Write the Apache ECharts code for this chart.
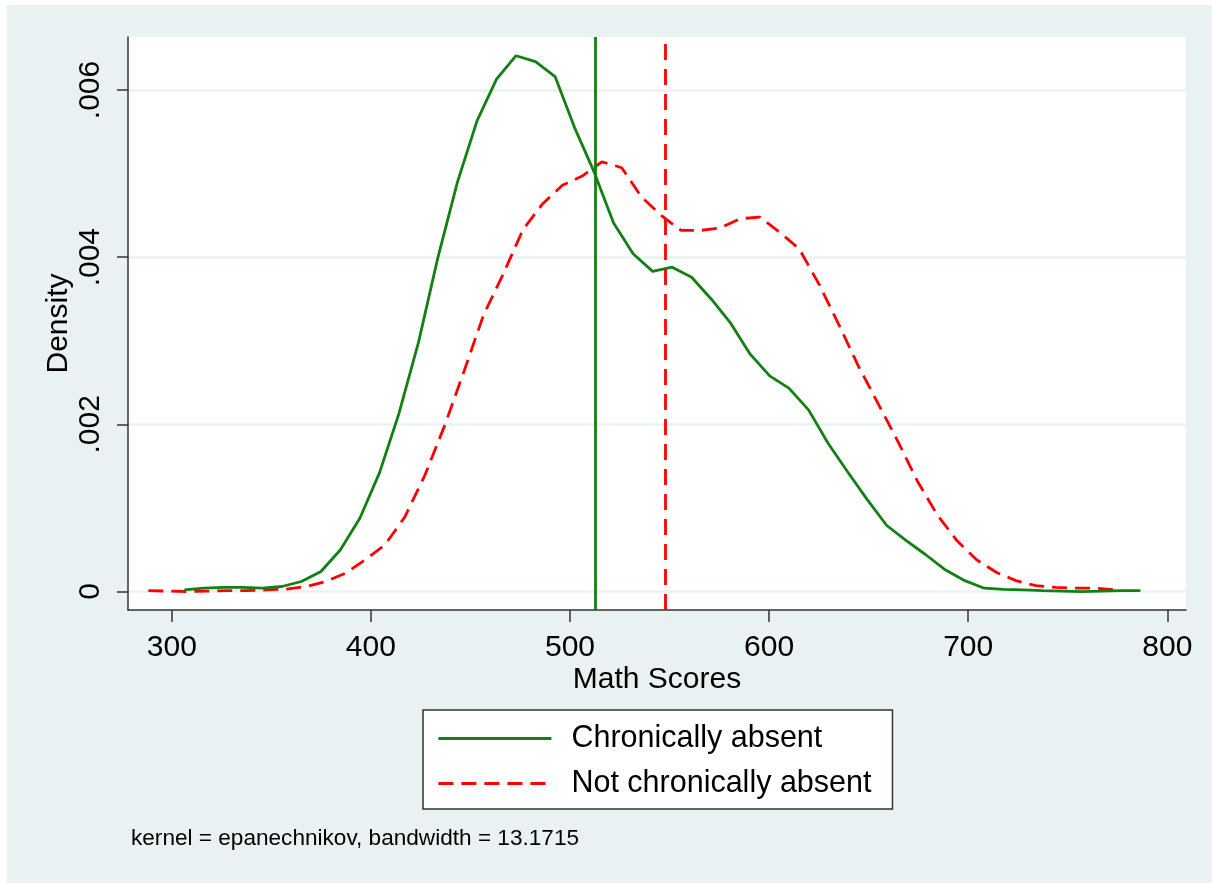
<!DOCTYPE html>
<html>
<head>
<meta charset="utf-8">
<script src="https://cdn.jsdelivr.net/npm/echarts@6/dist/echarts.min.js"></script>
<style>
  html, body { margin: 0; padding: 0; background: #ffffff; }
  #chart { position: absolute; left: 7px; top: 5px; width: 1205px; height: 878px; }
</style>
</head>
<body>
<div id="chart"></div>
<script>
// ---- Data ----
const chronicX = [306.3, 316.1, 325.9, 335.7, 345.5, 355.3, 365.1, 374.9, 384.7, 394.5,
  404.3, 414.1, 423.9, 433.7, 443.5, 453.3, 463.1, 472.9, 482.7, 492.5,
  502.3, 512.1, 521.9, 531.7, 541.5, 551.3, 561.1, 570.9, 580.7, 590.5,
  600.3, 610.1, 619.9, 629.7, 639.5, 649.3, 659.1, 668.9, 678.7, 688.5,
  698.3, 708.1, 717.9, 727.7, 737.5, 747.3, 757.1, 766.9, 776.7, 786.5];
const chronicY = [0.00002, 0.00004, 0.00005, 0.00005, 0.00004, 0.00006, 0.00012, 0.00024, 0.00050, 0.00088,
  0.00142, 0.00213, 0.00298, 0.00400, 0.00490, 0.00563, 0.00613, 0.00641, 0.00634, 0.00616,
  0.00555, 0.00502, 0.00441, 0.00404, 0.00383, 0.00388, 0.00376, 0.00350, 0.00321, 0.00284,
  0.00258, 0.00243, 0.00217, 0.00177, 0.00143, 0.00110, 0.00079, 0.00061, 0.00044, 0.00026,
  0.00013, 0.00004, 0.000025, 0.00002, 0.00001, 0.000005, 0.0, 0.000005, 0.00001, 0.00001];

const notChronicX = [288.2, 298.1, 308.0, 317.9, 327.8, 337.7, 347.7, 357.6, 367.5, 377.4,
  387.3, 397.2, 407.1, 417.0, 426.9, 436.8, 446.7, 456.6, 466.5, 476.4,
  486.3, 496.2, 506.1, 516.0, 526.0, 535.9, 545.8, 555.7, 565.6, 575.5,
  585.4, 595.3, 605.2, 615.1, 625.0, 634.9, 644.8, 654.7, 664.6, 674.5,
  684.4, 694.3, 704.2, 714.1, 724.0, 734.0, 743.9, 753.8, 763.7, 773.6];
const notChronicY = [0.00001, 0.000005, 0.0, 0.000005, 0.00001, 0.00001, 0.00002, 0.00003, 0.00006, 0.00012,
  0.00022, 0.00038, 0.00056, 0.00089, 0.00138, 0.00197, 0.00263, 0.00331, 0.00380, 0.00433,
  0.00464, 0.00486, 0.00497, 0.00514, 0.00507, 0.00472, 0.00450, 0.00432, 0.00432, 0.00435,
  0.00446, 0.00448, 0.00430, 0.00410, 0.00368, 0.00320, 0.00270, 0.00225, 0.00180, 0.00132,
  0.00092, 0.00061, 0.00038, 0.00023, 0.00013, 0.00007, 0.00005, 0.00004, 0.00004, 0.00002];

const meanChronic = 512.6;
const meanNotChronic = 547.8;

const xTicks = [300, 400, 500, 600, 700, 800];
const yTicks = [0, 0.002, 0.004, 0.006];

const seriesNames = ['Chronically absent', 'Not chronically absent'];
const noteText = 'kernel = epanechnikov, bandwidth = 13.1715';
const xTitle = 'Math Scores';
const yTitle = 'Density';

// ---- Styling ----
const FONT = '"Liberation Sans", Arial, Helvetica, sans-serif';
const GREEN = '#128012';
const RED = '#ff0000';
const BG = '#eaf1f3';
const AXIS = '#333333';
const LW = 2.8;

const chronicData = chronicX.map((x, i) => [x, chronicY[i]]);
const notChronicData = notChronicX.map((x, i) => [x, notChronicY[i]]);

const chart = echarts.init(document.getElementById('chart'), null, { renderer: 'canvas' });

const option = {
  animation: false,
  backgroundColor: BG,
  textStyle: { fontFamily: FONT },
  grid: {
    left: 121, top: 32, right: 26, bottom: 273,
    show: true, backgroundColor: '#ffffff', borderWidth: 0
  },
  xAxis: {
    type: 'value',
    min: 278, max: 809.4,
    name: xTitle,
    nameLocation: 'middle',
    nameGap: 55,
    nameMoveOverlap: false,
    nameTextStyle: { fontSize: 30, color: '#000', fontFamily: FONT },
    axisLine: { show: true, onZero: false, lineStyle: { color: AXIS, width: 1.5 } },
    axisTick: { show: true, length: 12, customValues: xTicks, lineStyle: { color: AXIS, width: 1.5 } },
    axisLabel: { customValues: xTicks, fontSize: 30, color: '#000', margin: 23, fontFamily: FONT },
    splitLine: { show: false }
  },
  yAxis: {
    type: 'value',
    min: -0.000221, max: 0.006634,
    name: yTitle,
    nameLocation: 'middle',
    nameGap: 54,
    nameMoveOverlap: false,
    nameTextStyle: { fontSize: 30, color: '#000', fontFamily: FONT },
    axisLine: { show: true, onZero: false, lineStyle: { color: AXIS, width: 1.5 } },
    axisTick: { show: true, length: 11, customValues: yTicks, lineStyle: { color: AXIS, width: 1.5 } },
    axisLabel: {
      customValues: yTicks,
      rotate: 90,
      fontSize: 30, color: '#000', margin: 22, fontFamily: FONT,
      formatter: v => (Math.abs(v) < 1e-12 ? '0' : v.toFixed(3).replace(/^0/, ''))
    },
    splitLine: { show: true, lineStyle: { color: BG, width: 2.5 } }
  },
  legend: {
    orient: 'vertical',
    left: 416, top: 705,
    padding: [13, 21, 10, 14],
    itemGap: 14,
    itemWidth: 113, itemHeight: 14,
    itemStyle: { opacity: 0 },
    lineStyle: { width: LW },
    backgroundColor: '#ffffff',
    borderColor: AXIS, borderWidth: 1.5, borderRadius: 0,
    textStyle: { fontSize: 30.5, color: '#000', fontFamily: FONT, padding: [0, 0, 0, 15] },
    data: seriesNames
  },
  graphic: [{
    type: 'text',
    left: 124, top: 822,
    style: { text: noteText, fill: '#000', font: '22.6px ' + FONT }
  }],
  series: [
    {
      name: seriesNames[0],
      type: 'line',
      symbol: 'none',
      data: chronicData,
      itemStyle: { color: GREEN },
      lineStyle: { color: GREEN, width: LW },
      z: 3,
      markLine: {
        silent: true,
        symbol: ['none', 'none'],
        label: { show: false },
        lineStyle: { color: GREEN, width: LW, type: 'solid' },
        data: [{ xAxis: meanChronic }]
      }
    },
    {
      name: seriesNames[1],
      type: 'line',
      symbol: 'none',
      data: notChronicData,
      itemStyle: { color: RED },
      lineStyle: { color: RED, width: LW, type: [15, 8] },
      z: 2,
      markLine: {
        silent: true,
        symbol: ['none', 'none'],
        label: { show: false },
        lineStyle: { color: RED, width: LW, type: [16, 9] },
        data: [{ xAxis: meanNotChronic }]
      }
    }
  ]
};

chart.setOption(option);
</script>
</body>
</html>
